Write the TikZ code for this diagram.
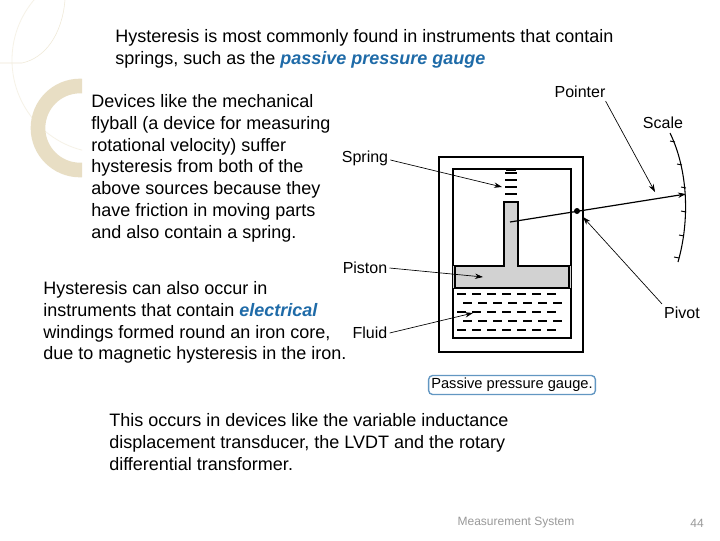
\documentclass[tikz,border=0pt]{standalone}
\usepackage{fontspec}
\setmainfont{Liberation Sans}
\usetikzlibrary{patterns,arrows.meta}
\begin{document}
\begin{tikzpicture}[x=0.75pt,y=-0.75pt,
 txt/.style={font=\fontsize{13.5}{16.4}\selectfont,align=left,inner sep=0},
 lab/.style={font=\fontsize{12}{13}\selectfont,inner sep=0},
 ptr/.style={-{Stealth[length=6pt,width=4pt]},line width=0.5pt}]
\definecolor{blueem}{RGB}{31,107,168}
\definecolor{ringc}{RGB}{232,222,196}
\fill[white] (0,0) rectangle (720,540);
\useasboundingbox (0,0) rectangle (720,540);
% decoration
\begin{scope}
\clip (0,0) rectangle (82,540);
\draw[ringc!40,line width=0.6pt] (105,60) circle[radius=93];
\draw[ringc,line width=11pt] (80,128) circle[radius=42];
\end{scope}
\draw[ringc!70,line width=0.4pt] (0,63) -- (22,63) .. controls (45,58) and (62,35) .. (65,0);
% texts
\node[txt,anchor=north west] (t1) at (115,29) {Hysteresis is most commonly found in instruments that contain\\springs, such as the \textcolor{blueem}{\textbf{\itshape passive pressure gauge}}};
\node[txt,anchor=north west] (t2) at (91,94) {Devices like the mechanical\\flyball (a device for measuring\\rotational velocity) suffer\\hysteresis from both of the\\above sources because they\\have friction in moving parts\\and also contain a spring.};
\node[txt,anchor=north west] (t3) at (43,281) {Hysteresis can also occur in\\instruments that contain \textcolor{blueem}{\textbf{\itshape electrical}}\\windings formed round an iron core,\\due to magnetic hysteresis in the iron.};
\node[txt,anchor=north west] (t4) at (109,413) {This occurs in devices like the variable inductance\\displacement transducer, the LVDT and the rotary\\differential transformer.};
\node[font=\fontsize{9}{10}\selectfont,text=gray!80] (ft) at (516,523) {Measurement System};
\node[font=\fontsize{9}{10}\selectfont,text=gray!80] (pg) at (697,523) {44};
% gauge
\draw[line width=1pt] (439,157) rectangle (583,352);
\draw[line width=1.3pt] (453,169) rectangle (571,338);
\foreach \y/\o in {294/0,303/6,312/0,321/6,330/0}{
 \foreach \x in {457,472,...,560}{\draw[line width=0.9pt] (\x+\o,\y) -- (\x+\o+9,\y);}}
\fill[gray!35] (453,266) rectangle (571,288);
\fill[gray!35] (504,202) rectangle (518,266);
\draw[line width=0.8pt] (504,266) -- (504,202) -- (518,202) -- (518,266);
\draw[line width=2pt] (455,266) rectangle (569,288);
\fill[gray!35] (505,265) rectangle (517,268);
\foreach \y in {173,180,187,194}{\draw[line width=1.6pt] (505,\y) -- (517,\y);}
\draw[line width=1.6pt] (506,170) -- (516,170);
% scale
\draw[line width=0.8pt] (670,133) .. controls (688,170) and (690,220) .. (678,262);
\foreach \y/\xx in {142/675,165/682,188/686,212/686,236/684,258/679}{\draw[line width=0.7pt] (\xx,\y) -- (\xx-5,\y-1);}
% pointer
\coordinate (ps) at (510,222);
\coordinate (pe) at (686,194);
\draw[ptr,line width=0.9pt] (ps) -- (pe);
\fill (577,211) circle (3);
\node[lab] (lpt) at (580,92) {Pointer};
\node[lab] (lsc) at (663,123) {Scale};
\node[lab] (lsp) at (365,158) {Spring};
\node[lab] (lpi) at (365,268) {Piston};
\node[lab] (lfl) at (370,333) {Fluid};
\node[lab] (lpv) at (682,313) {Pivot};
\coordinate (asp) at (502,187);
\coordinate (api) at (483,277);
\coordinate (afl) at (473,313);
\coordinate (apt) at (655,192);
\coordinate (apv) at (583,217);
\draw[ptr] (lsp.east) ++(2,2) -- (asp);
\draw[ptr] (lpi.east) ++(2,0) -- (api);
\draw[ptr] (lfl.east) ++(2,0) -- (afl);
\draw[ptr] (lpt.south east) ++(0,3) -- (apt);
\draw[ptr] (lpv.north west) ++(-2,-3) -- (apv);
\node[draw=blueem!70,rounded corners=3pt,line width=1pt,inner sep=2pt,font=\fontsize{11}{12}\selectfont] (cap) at (512,385) {Passive pressure gauge.};
\end{tikzpicture}
\end{document}
